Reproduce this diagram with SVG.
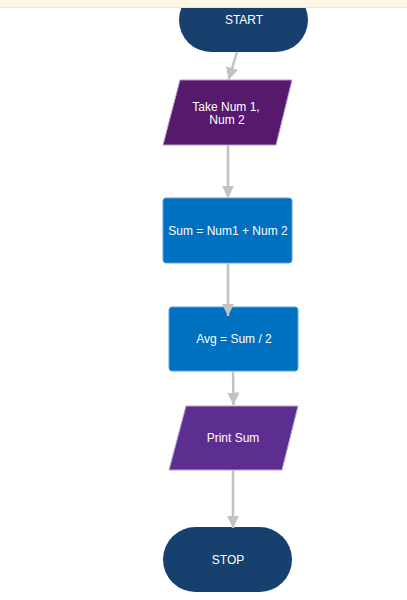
<svg xmlns="http://www.w3.org/2000/svg" width="407" height="600" viewBox="0 0 407 600">
<style>
.t{font-family:"Liberation Sans",Arial,sans-serif;font-size:12px;fill:#ffffff;text-anchor:middle;dominant-baseline:central}
.c{stroke:#c2c2c2;stroke-width:2.5;fill:none}
</style>
<defs>
<marker id="ah" viewBox="0 0 10 10" refX="10" refY="5" markerWidth="5" markerHeight="5" markerUnits="strokeWidth" orient="auto">
<path d="M0,0 L10,5 L0,10 z" fill="#c2c2c2"/>
</marker>
</defs>
<rect x="0" y="0" width="407" height="600" fill="#ffffff"/>
<g id="start">
<rect x="179" y="-12" width="129" height="64" rx="32" fill="#18406e"/>
<text class="t" x="244" y="20">START</text>
</g>
<g id="input">
<polygon points="180,80 292,80 276,145 163,145" fill="#56196c" stroke="#b99ac8" stroke-width="1"/>
<text class="t" x="226" y="107">Take Num 1,</text>
<text class="t" x="227" y="119.5">Num 2</text>
</g>
<g id="sum">
<rect x="163" y="198" width="129" height="65" rx="3" fill="#0070c0" stroke="#5aa0dc" stroke-width="1"/>
<text class="t" x="228" y="231">Sum = Num1 + Num 2</text>
</g>
<g id="avg">
<rect x="169" y="307" width="129" height="64" rx="3" fill="#0070c0" stroke="#5aa0dc" stroke-width="1"/>
<text class="t" x="234" y="339">Avg = Sum / 2</text>
</g>
<g id="print">
<polygon points="186,406 298,406 282,470 169,470" fill="#5c2e8f" stroke="#b9a0d2" stroke-width="1"/>
<text class="t" x="233" y="438">Print Sum</text>
</g>
<g id="stop">
<rect x="163" y="527" width="129" height="65" rx="32.5" fill="#18406e"/>
<text class="t" x="228" y="560">STOP</text>
</g>
<g id="connectors">
<line class="c" x1="237" y1="52" x2="228.5" y2="80" marker-end="url(#ah)"/>
<line class="c" x1="228" y1="145" x2="228" y2="198" marker-end="url(#ah)"/>
<line class="c" x1="228" y1="263" x2="228" y2="316" marker-end="url(#ah)"/>
<line class="c" x1="233" y1="371" x2="233.5" y2="405" marker-end="url(#ah)"/>
<line class="c" x1="233" y1="470" x2="233" y2="528" marker-end="url(#ah)"/>
</g>
<rect x="0" y="0" width="407" height="7" fill="#fef6e4"/>
<line x1="0" y1="7.5" x2="407" y2="7.5" stroke="#f3e6c8" stroke-width="1"/>
</svg>
